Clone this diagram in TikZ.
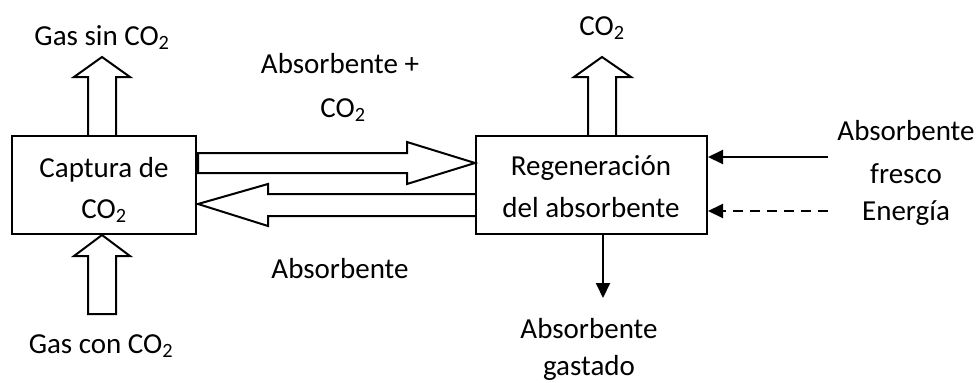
\documentclass[tikz,border=0pt]{standalone}
\usepackage{fontspec}
\setmainfont{Carlito}
\usetikzlibrary{arrows.meta,calc}
\newcommand{\cotwo}{CO\textsubscript{2}}
\begin{document}
\begin{tikzpicture}[x=1pt,y=-1pt,
  lbl/.style={font=\fontsize{29}{34}\selectfont, inner sep=0pt, anchor=base},
  boxnode/.style={draw, line width=2pt, minimum height=98pt, inner sep=0pt},
  blk/.style={draw, line width=2pt, line join=miter},
  flow/.style={line width=2pt, -{Triangle[length=15pt,width=14pt]}},
  dflow/.style={flow, dash pattern=on 10pt off 7pt}]
\useasboundingbox (0,0) rectangle (978,383);
% boxes
\node[boxnode, minimum width=184pt] (cap) at (104,185) {};
\node[boxnode, minimum width=231pt] (reg) at (591.5,185) {};
% box labels
\node[lbl] (capA) at (104,177) {Captura de};
\node[lbl] (capB) at (104,218) {\cotwo};
\node[lbl] (regA) at (591,175) {Regeneración};
\node[lbl] (regB) at (591,217) {del absorbente};
% outer labels
\node[lbl] (gsin) at (102,45) {Gas sin \cotwo};
\node[lbl] (gcon) at (101,353) {Gas con \cotwo};
\node[lbl] (co2) at (602,35) {\cotwo};
\node[lbl] (abpA) at (340,73) {Absorbente +};
\node[lbl] (abpB) at (343,117) {\cotwo};
\node[lbl] (ablo) at (340,278) {Absorbente};
\node[lbl] (gasA) at (589,338) {Absorbente};
\node[lbl] (gasB) at (589,375) {gastado};
\node[lbl] (frA) at (906,140) {Absorbente};
\node[lbl] (frB) at (906,183) {fresco};
\node[lbl] (ene) at (906,220) {Energía};
% block arrows
\draw[blk] (88,136) -- (88,77) -- (74,77) -- (102,57) -- (130,77) -- (116,77) -- (116,136);
\draw[blk] (88,314) -- (88,256) -- (74,256) -- (102,235) -- (130,256) -- (116,256) -- (116,314) -- cycle;
\draw[blk] (588,136) -- (588,77) -- (574,77) -- (602,57) -- (631,77) -- (616,77) -- (616,136);
\draw[blk] (198,153) -- (407,153) -- (407,142) -- (475,163) -- (407,184) -- (407,173) -- (198,173) -- cycle;
\draw[blk] (476,194) -- (268,194) -- (268,184) -- (198,204) -- (268,226) -- (268,216) -- (476,216);
% thin arrows
\coordinate (inA) at (828,157);
\coordinate (inB) at (828,211);
\coordinate (outS) at (603,298);
\draw[flow] (inA) -- (inA -| reg.east);
\draw[dflow] (inB) -- (inB -| reg.east);
\draw[flow] (outS |- reg.south) -- (outS);
\end{tikzpicture}
\end{document}
